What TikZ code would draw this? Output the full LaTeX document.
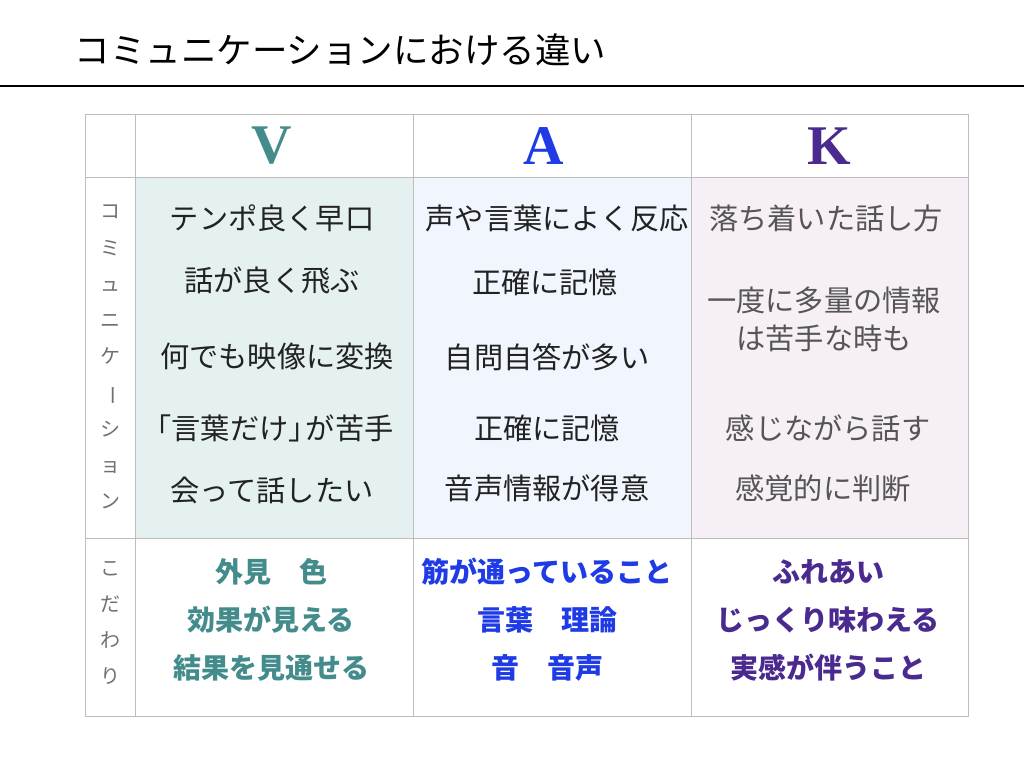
\documentclass[tikz,border=0pt]{standalone}
\usepackage{fontspec}
\usepackage{xcolor}
\setmainfont{Noto Sans CJK JP}
\newfontfamily\vakfont{Liberation Serif}
\definecolor{gridgray}{HTML}{BDBDBD}
\definecolor{bodyblack}{HTML}{222222}
\definecolor{kgray}{HTML}{555555}
\definecolor{sidegray}{HTML}{707070}
\definecolor{vteal}{HTML}{448C8C}
\definecolor{ablue}{HTML}{1F3BE6}
\definecolor{kpurple}{HTML}{4A2A8E}
\definecolor{vfill}{HTML}{E5F0F0}
\definecolor{afill}{HTML}{F0F5FE}
\definecolor{kfill}{HTML}{F6EFF6}
\usetikzlibrary{positioning}

\begin{document}
\begin{tikzpicture}[x=1pt, y=-1pt,
  gridline/.style={draw=gridgray, line width=1pt},
  body/.style={font=\fontsize{29.2}{38}\selectfont, text=bodyblack, align=center},
  side/.style={font=\fontsize{20}{36.2}\selectfont, text=sidegray, align=center},
  pref/.style={font=\bfseries\fontsize{28}{48}\selectfont, align=center},
  head/.style={font=\vakfont\bfseries\fontsize{56}{60}\selectfont}]
\useasboundingbox (0,0) rectangle (1024,768);
% title
\node[anchor=west, font=\fontsize{35.5}{40}\selectfont] (title) at (71,50) {コミュニケーションにおける違い};
\coordinate (rl) at (0,86);
\coordinate (rr) at (1024,86);
\draw[line width=1.5pt] (rl) -- (rr);
% cell fills
\fill[vfill] (135,177) rectangle (413,538);
\fill[afill] (413,177) rectangle (691,538);
\fill[kfill] (691,177) rectangle (968,538);
% grid
\draw[gridline] (85,114) rectangle (968,716);
\draw[gridline] (135,114) -- (135,716);
\draw[gridline] (413,114) -- (413,716);
\draw[gridline] (691,114) -- (691,716);
\draw[gridline] (85,177) -- (968,177);
\draw[gridline] (85,538) -- (968,538);
% headers
\node[head, text=vteal] (hv) at (272,146) {V};
\node[head, text=ablue] (ha) at (544,146) {A};
\node[head, text=kpurple] (hk) at (829,146) {K};
% side labels
\node[side] (comm) at (110,357) {コ\\ミ\\ュ\\ニ\\ケ\\\rotatebox[origin=c]{-90}{ー}\\シ\\ョ\\ン};
\node[side] (pref) at (110,623) {こ\\だ\\わ\\り};
% V
\node[body] (v1) at (272,218) {テンポ良く早口};
\node[body] (v2) at (272,280) {話が良く飛ぶ};
\node[body] (v3) at (277,356) {何でも映像に変換};
\node[body] (v4) at (268,428) {「言葉だけ」\kern-0.4emが苦手};
\node[body] (v5) at (272,490) {会って話したい};
% A
\node[body] (a1) at (557,218) {声や言葉によく反応};
\node[body] (a2) at (545,282) {正確に記憶};
\node[body] (a3) at (547,357) {自問自答が多い};
\node[body] (a4) at (547,428) {正確に記憶};
\node[body] (a5) at (547,488) {音声情報が得意};
% K
\node[body, text=kgray] (k1) at (826,218) {落ち着いた話し方};
\node[body, text=kgray] (k2) at (824,319) {一度に多量の情報\\は苦手な時も};
\node[body, text=kgray] (k3) at (828,428) {感じながら話す};
\node[body, text=kgray] (k4) at (823,488) {感覚的に判断};
% preferences
\node[pref, text=vteal] (pv) at (271,620) {外見　色\\効果が見える\\結果を見通せる};
\node[pref, text=ablue] (pa) at (547,620) {筋が通っていること\\言葉　理論\\音　音声};
\node[pref, text=kpurple] (pk) at (828,620) {ふれあい\\じっくり味わえる\\実感が伴うこと};
\end{tikzpicture}
\end{document}
